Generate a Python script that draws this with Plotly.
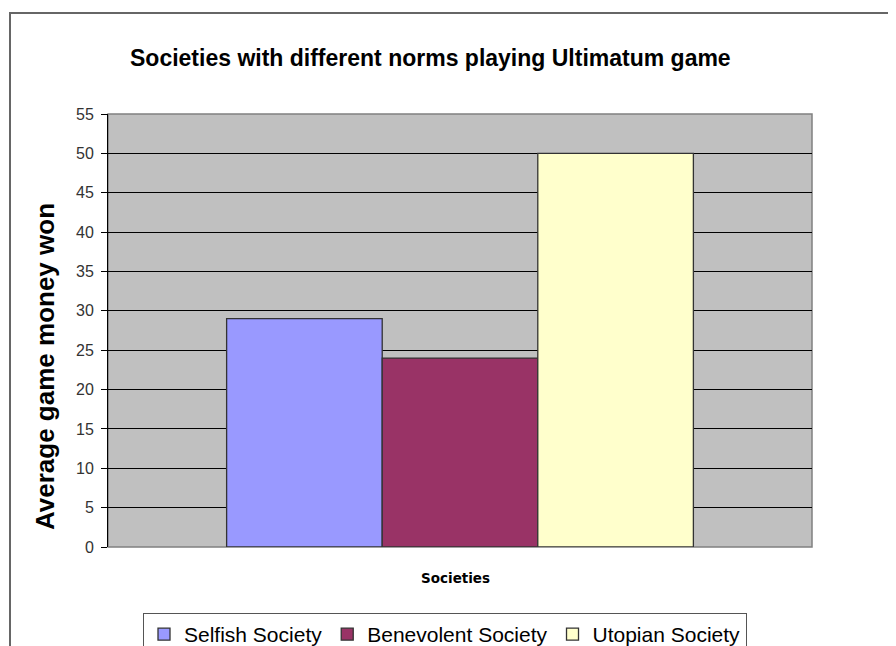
import plotly.graph_objects as go

categories = ["Societies"]
series_names = ["Selfish Society", "Benevolent Society", "Utopian Society"]
series_values = [[29], [24], [50]]
series_colors = ["#9999FF", "#993366", "#FFFFCC"]
y_ticks = [0, 5, 10, 15, 20, 25, 30, 35, 40, 45, 50, 55]

# page body has an 8px margin; work in window pixels and convert
OFF = 8
W, H = 888, 638
PL, PR, PT, PB = 108, 812, 114, 547  # plot area in window pixels
L, R, T, B = PL - OFF, W - (PR - OFF), PT - OFF, H - (PB - OFF)
pw, ph = W - L - R, H - T - B

def px(x):
    return (x - PL) / pw

def py(y):
    return (PB - y) / ph

fig = go.Figure()
for name, vals, col in zip(series_names, series_values, series_colors):
    fig.add_trace(go.Bar(
        x=categories, y=vals, name=name,
        marker=dict(color=col, line=dict(color="#333333", width=1.3)),
    ))

font_family = "Liberation Sans, Arial, sans-serif"

fig.update_layout(
    width=W, height=H,
    margin=dict(l=L, r=R, t=T, b=B, autoexpand=False),
    paper_bgcolor="white",
    plot_bgcolor="#C0C0C0",
    barmode="group",
    bargap=0.337,
    bargroupgap=0,
    showlegend=True,
    font=dict(family=font_family, color="#000000"),
    xaxis=dict(
        showticklabels=False, ticks="", showgrid=False, zeroline=False,
        showline=False, fixedrange=True,
    ),
    yaxis=dict(
        range=[0, 55], tickvals=y_ticks, ticktext=[str(v) for v in y_ticks],
        ticks="outside", ticklen=6, tickcolor="#000000", tickwidth=1,
        showgrid=True, gridcolor="#000000", gridwidth=1,
        showline=True, linecolor="#000000", linewidth=1,
        zeroline=False,
        tickfont=dict(size=16, color="#333333", family=font_family),
        ticklabelstandoff=4,
    ),
    legend=dict(
        orientation="h", x=px(143), y=py(613), xanchor="left", yanchor="top",
        bordercolor="#555555", borderwidth=1, bgcolor="white",
        font=dict(size=21, family=font_family, color="#000000"),
        itemwidth=30, traceorder="normal", tracegroupgap=0,
    ),
    annotations=[
        dict(text="<b>Societies with different norms playing Ultimatum game</b>",
             x=px(430), y=py(58), xref="paper", yref="paper",
             showarrow=False, xanchor="center", yanchor="middle",
             font=dict(size=23, family=font_family, color="#000000")),
        dict(text="<b>Average game money won</b>",
             x=px(45), y=py(367), xref="paper", yref="paper",
             showarrow=False, xanchor="center", yanchor="middle", textangle=-90,
             font=dict(size=26, family=font_family, color="#000000")),
        dict(text="<b>Societies</b>",
             x=px(455), y=py(578), xref="paper", yref="paper",
             showarrow=False, xanchor="center", yanchor="middle",
             font=dict(size=13.5, family="DejaVu Sans, sans-serif", color="#000000")),
    ],
    shapes=[
        dict(type="rect", xref="paper", yref="paper",
             x0=0, x1=1, y0=0, y1=1,
             line=dict(color="#808080", width=1.5), layer="below"),
        dict(type="rect", xref="paper", yref="paper",
             x0=px(10), x1=px(905), y0=py(13), y1=py(660),
             line=dict(color="#666666", width=2), fillcolor="rgba(0,0,0,0)"),
    ],
)

fig.write_html("out.html")
